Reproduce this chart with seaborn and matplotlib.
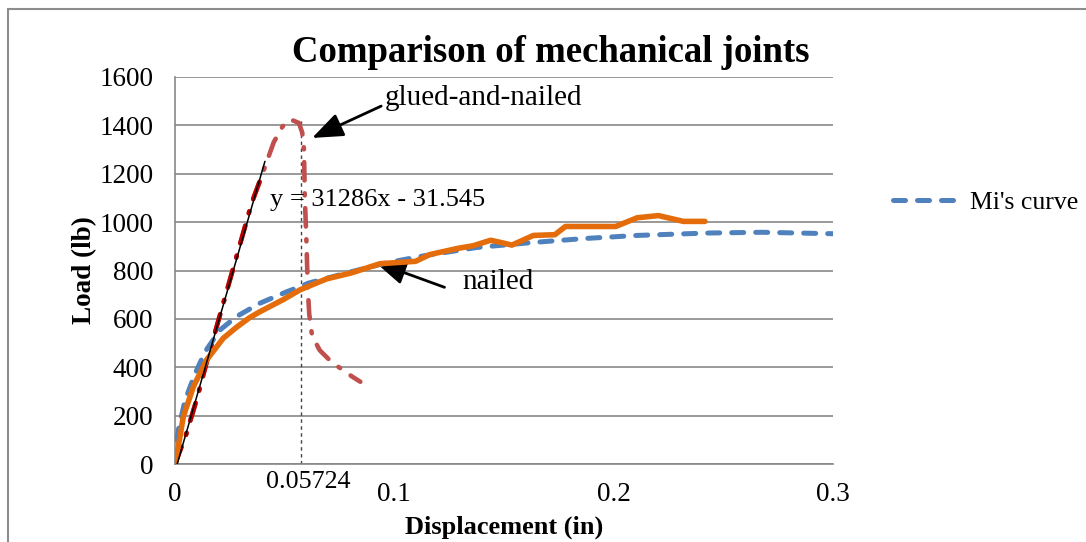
import matplotlib
matplotlib.use("Agg")
import matplotlib.pyplot as plt
import seaborn as sns
import numpy as np
import pandas as pd
from matplotlib.patches import Rectangle

# ---- data ----
mi_x = [0, 0.0003, 0.0015, 0.0046, 0.0091, 0.0137, 0.0205, 0.0281, 0.0388, 0.0509,
        0.057, 0.0609, 0.0804, 0.0967, 0.113, 0.1374, 0.162, 0.1863, 0.2107, 0.2433,
        0.2677, 0.300]
mi_y = [0, 60, 140, 264, 372, 464, 554, 610, 665, 712,
        733, 748, 795, 832, 860, 895, 915, 932, 945, 955,
        958, 952]

nailed_x = [0, 0.0015, 0.0038, 0.0084, 0.0144, 0.022, 0.028, 0.034, 0.0388, 0.0494,
            0.057, 0.069, 0.0804, 0.0934, 0.1097, 0.1162, 0.1292, 0.1358, 0.1439, 0.1490,
            0.1536, 0.1634, 0.1732, 0.178, 0.2009, 0.2107, 0.2204, 0.2318, 0.2416]
nailed_y = [0, 72, 196, 320, 430, 520, 565, 605, 630, 680,
            720, 765, 790, 828, 838, 866, 892, 902, 925, 915,
            905, 945, 948, 982, 982, 1018, 1027, 1003, 1003]

glued_x = [0, 0.005, 0.010, 0.015, 0.020, 0.025, 0.030, 0.035, 0.0395, 0.045,
           0.049, 0.0525, 0.0565, 0.058, 0.0588, 0.0590, 0.0592, 0.0596, 0.0600, 0.0603,
           0.0607, 0.0612, 0.0625, 0.066, 0.071, 0.077, 0.081, 0.0845]
glued_y = [0, 120, 270, 440, 600, 760, 920, 1080, 1190, 1330,
           1395, 1425, 1410, 1370, 1300, 1200, 1100, 1000, 900, 800,
           700, 620, 530, 470, 425, 385, 360, 340]

# linear fit of the initial glued-and-nailed branch
fit_slope = 31286
fit_intercept = -31.545
fit_x = [0.001, 0.041]
fit_y = [fit_slope * v + fit_intercept for v in fit_x]

peak_disp = 0.05724
peak_line_y = [0, 1420]

x_ticks = [0, 0.1, 0.2, 0.3]
x_tick_labels = ["0", "0.1", "0.2", "0.3"]
y_ticks = [0, 200, 400, 600, 800, 1000, 1200, 1400, 1600]

# ---- style ----
sns.set_theme(style="white")
plt.rcParams["font.family"] = ["Liberation Serif", "DejaVu Serif"]
plt.rcParams["text.color"] = "black"
plt.rcParams["axes.labelcolor"] = "black"
plt.rcParams["lines.scale_dashes"] = True

BLUE = "#4F81BD"
ORANGE = "#E46C0A"
RED = "#C0504D"
DARK_RED = "#C00000"
GRID = "#878787"

W, H = 1086, 542
fig = plt.figure(figsize=(W / 100, H / 100), dpi=100)
ax = fig.add_axes([175 / W, 1 - 464 / H, (833 - 175) / W, (464 - 77) / H])

# outer chart frame
fig.patches.append(Rectangle((8 / W, -0.05), 1.2, 1 - 9 / H + 0.05,
                             transform=fig.transFigure, fill=False,
                             edgecolor="#8c8c8c", lw=1.5))

mi_df = pd.DataFrame({"disp": mi_x, "load": mi_y})
nailed_df = pd.DataFrame({"disp": nailed_x, "load": nailed_y})
glued_df = pd.DataFrame({"disp": glued_x, "load": glued_y})
glued_fit_df = glued_df[glued_df["disp"] <= 0.0395]

RED_LW = 3.3
dashdot = (0, (4.0, 2.8, 0.45, 2.8))
dashed = (0, (2.4, 2.4))

sns.lineplot(data=glued_df, x="disp", y="load", ax=ax, sort=False, color=RED,
             linewidth=RED_LW, zorder=3)
sns.lineplot(data=glued_fit_df, x="disp", y="load", ax=ax, sort=False, color=DARK_RED,
             linewidth=RED_LW, zorder=3.1)
sns.lineplot(data=mi_df, x="disp", y="load", ax=ax, sort=False, color=BLUE,
             linewidth=3.6, zorder=4)
sns.lineplot(data=nailed_df, x="disp", y="load", ax=ax, sort=False, color=ORANGE,
             linewidth=4.0, zorder=5)

glued_line, glued_fit_line, mi_line, nailed_line = ax.lines[:4]
for ln in (glued_line, glued_fit_line):
    ln.set_linewidth(RED_LW)
    ln.set_linestyle(dashdot)
    ln.set_dash_capstyle("round")
mi_line.set_linestyle(dashed)
mi_line.set_dash_capstyle("round")
nailed_line.set_solid_capstyle("round")
nailed_line.set_solid_joinstyle("round")

ax.plot(fit_x, fit_y, color="black", lw=1.1, zorder=6)
ax.plot([peak_disp, peak_disp], peak_line_y, color="#444444", lw=1.0,
        linestyle=(0, (2.5, 2.5)), zorder=2)

ax.set_xlim(0, 0.3)
ax.set_ylim(0, 1600)
ax.set_xticks(x_ticks)
ax.set_xticklabels(x_tick_labels)
ax.set_yticks(y_ticks)
ax.tick_params(axis="both", length=0, labelsize=19.5, colors="black")
ax.tick_params(axis="x", pad=13)
ax.tick_params(axis="y", pad=15.5)

ax.yaxis.grid(True, color=GRID, lw=1.2)
ax.xaxis.grid(False)
ax.set_axisbelow(True)
for side in ["top", "right"]:
    ax.spines[side].set_visible(False)
ax.spines["left"].set_color(GRID)
ax.spines["left"].set_linewidth(1.2)
ax.spines["bottom"].set_color(GRID)
ax.spines["bottom"].set_linewidth(1.2)

ax.set_xlabel("Displacement (in)", fontsize=19, fontweight="bold", labelpad=6)
ax.set_ylabel("Load (lb)", fontsize=19.5, fontweight="bold", labelpad=1.5)
fig.text(551 / W, 1 - 52 / H, "Comparison of mechanical joints", fontsize=26.5,
         fontweight="bold", ha="center", va="center")

# annotations
ax.text(peak_disp + 0.0035, -75, "0.05724", fontsize=18.7, ha="center", va="center",
        clip_on=False)
ax.text(0.0435, 1090, "y = 31286x - 31.545", fontsize=19, ha="left", va="center")
ax.annotate("glued-and-nailed", xy=(0.0625, 1348), xytext=(0.0958, 1512),
            fontsize=21, ha="left", va="center",
            arrowprops=dict(arrowstyle="-|>,head_length=0.9,head_width=0.35",
                            color="black", lw=2, shrinkA=0, shrinkB=0,
                            relpos=(-0.02, 0.2)))
ax.annotate("nailed", xy=(0.0912, 835), xytext=(0.131, 752),
            fontsize=21, ha="left", va="center",
            arrowprops=dict(arrowstyle="-|>,head_length=0.9,head_width=0.35",
                            color="black", lw=2, shrinkA=0, shrinkB=0,
                            relpos=(-0.25, 0.3)))

legend_handle = plt.Line2D([], [], color=BLUE, lw=3.6, linestyle=dashed,
                           dash_capstyle="round")
fig.legend(handles=[legend_handle], labels=["Mi's curve"], loc="center left",
           bbox_to_anchor=(893 / W, 1 - 203 / H), frameon=False,
           fontsize=18.5, handlelength=2.5, handletextpad=0.5, borderpad=0,
           borderaxespad=0)

fig.savefig("out.png", dpi=100)
